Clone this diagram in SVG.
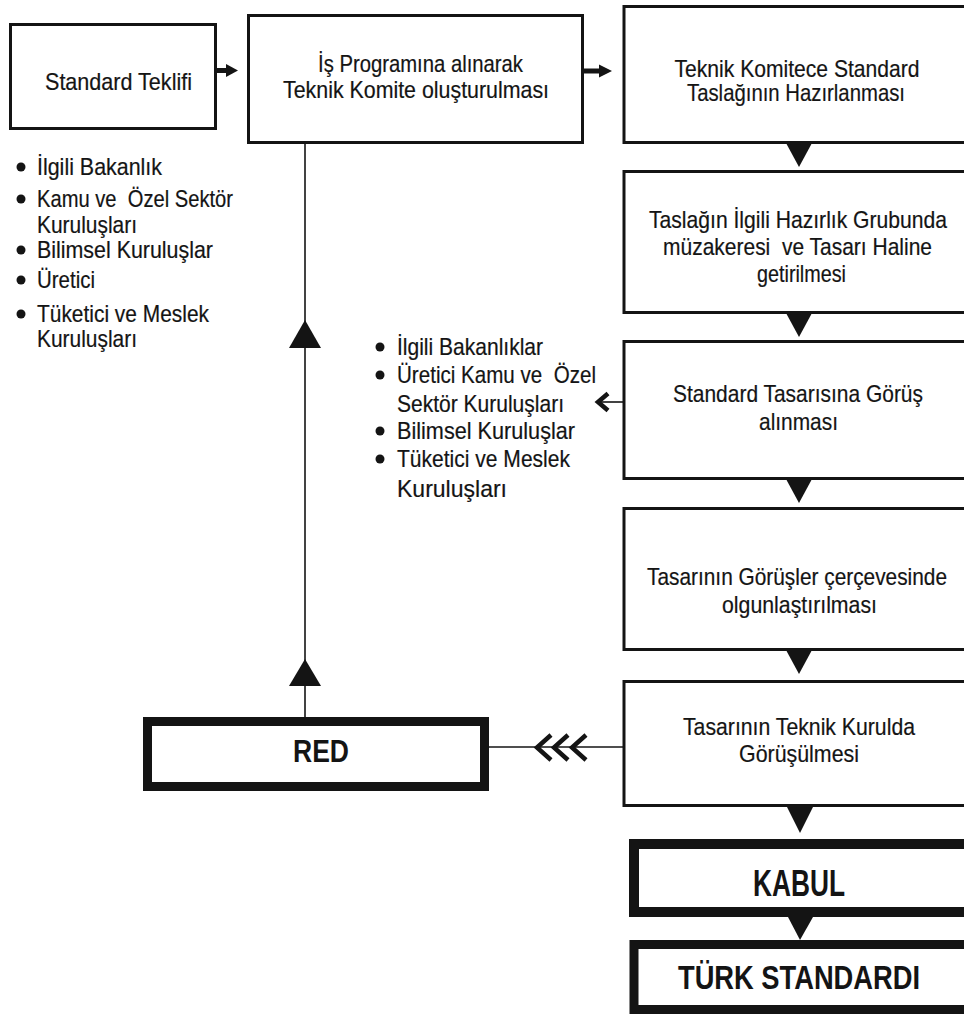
<svg xmlns="http://www.w3.org/2000/svg" width="964" height="1014" viewBox="0 0 964 1014">
<style>
.bg{fill:#ffffff}
.box{fill:#ffffff;stroke:#141414;stroke-width:3}
.open{fill:#ffffff;stroke:#141414;stroke-width:3}
.openh{fill:#ffffff;stroke:#141414}
.heavy{fill:#ffffff;stroke:#141414;stroke-width:9}
.t{font-family:"Liberation Sans",Arial,sans-serif;font-size:24px;fill:#141414;stroke:#141414;stroke-width:0.2}
.c{text-anchor:middle}
.b{font-family:"Liberation Sans",Arial,sans-serif;font-weight:700;fill:#141414;text-anchor:middle}
.ln{stroke:#141414;stroke-width:1.6;fill:none}
.tri{fill:#141414}
.chev{fill:none;stroke:#141414;stroke-width:4.5;stroke-linejoin:miter}
.dot{fill:#141414}
</style>
<rect class="bg" x="0" y="0" width="964" height="1014"/>

<g id="connectors">
  <rect x="206" y="68" width="2" height="5" fill="#141414"/>
  <rect x="209.5" y="68" width="2" height="5" fill="#141414"/>
  <line x1="213" y1="70.5" x2="228" y2="70.5" stroke="#141414" stroke-width="5"/>
  <polygon class="tri" points="226,64 238,70.5 226,77"/>
  <line x1="584" y1="71" x2="601" y2="71" stroke="#141414" stroke-width="5"/>
  <polygon class="tri" points="599,64.5 612,71 599,77.5"/>
  <polygon class="tri" points="786,143 812,143 799,167"/>
  <polygon class="tri" points="786,313 812,313 799,337"/>
  <polygon class="tri" points="786,479 812,479 799,503"/>
  <polygon class="tri" points="786,650 812,650 799,674"/>
  <polygon class="tri" points="787,807 813,807 800,833"/>
  <polygon class="tri" points="788,917 813,917 800,940"/>
  <line class="ln" x1="623" y1="402" x2="600" y2="402"/>
  <polyline class="chev" points="608,393.5 598,402 608,410.5"/>
  <line class="ln" x1="489" y1="747" x2="623" y2="747"/>
  <polyline class="chev" points="551,735 537,747.5 551,760"/>
  <polyline class="chev" points="568,735 554,747.5 568,760"/>
  <polyline class="chev" points="586,735 572,747.5 586,760"/>
  <line class="ln" x1="305" y1="143" x2="305" y2="717"/>
  <polygon class="tri" points="289,348 321,348 305,320"/>
  <polygon class="tri" points="289,686 321,686 305,659"/>
</g>

<g id="node-standard-teklifi">
  <rect class="box" x="10.5" y="24.5" width="205" height="104"/>
  <text class="t c" x="118.5" y="90" textLength="147" lengthAdjust="spacingAndGlyphs">Standard Teklifi</text>
</g>

<g id="list-teklif">
  <circle class="dot" cx="21" cy="167" r="4.5"/>
  <circle class="dot" cx="21" cy="199" r="4.5"/>
  <circle class="dot" cx="21" cy="250" r="4.5"/>
  <circle class="dot" cx="21" cy="280" r="4.5"/>
  <circle class="dot" cx="21" cy="314" r="4.5"/>
  <text class="t" x="37" y="175" textLength="125" lengthAdjust="spacingAndGlyphs">İlgili Bakanlık</text>
  <text class="t" x="37" y="207" textLength="196" lengthAdjust="spacingAndGlyphs" xml:space="preserve">Kamu ve  Özel Sektör</text>
  <text class="t" x="37" y="233" textLength="100" lengthAdjust="spacingAndGlyphs">Kuruluşları</text>
  <text class="t" x="37" y="258" textLength="176" lengthAdjust="spacingAndGlyphs">Bilimsel Kuruluşlar</text>
  <text class="t" x="37" y="288" textLength="58" lengthAdjust="spacingAndGlyphs">Üretici</text>
  <text class="t" x="37" y="322" textLength="172" lengthAdjust="spacingAndGlyphs">Tüketici ve Meslek</text>
  <text class="t" x="37" y="347" textLength="100" lengthAdjust="spacingAndGlyphs">Kuruluşları</text>
</g>

<g id="node-is-programi">
  <rect class="box" x="248.5" y="15.5" width="334" height="127"/>
  <text class="t c" x="420.5" y="72" textLength="205" lengthAdjust="spacingAndGlyphs">İş Programına alınarak</text>
  <text class="t c" x="416" y="98" textLength="266" lengthAdjust="spacingAndGlyphs">Teknik Komite oluşturulması</text>
</g>

<g id="node-taslak">
  <path class="open" d="M964,6.5 H624 V142.5 H964"/>
  <text class="t c" x="797" y="77" textLength="245" lengthAdjust="spacingAndGlyphs">Teknik Komitece Standard</text>
  <text class="t c" x="796" y="101" textLength="218" lengthAdjust="spacingAndGlyphs">Taslağının Hazırlanması</text>
</g>

<g id="node-hazirlik">
  <path class="open" d="M964,171.5 H624 V312.5 H964"/>
  <text class="t c" x="798" y="228" textLength="298" lengthAdjust="spacingAndGlyphs">Taslağın İlgili Hazırlık Grubunda</text>
  <text class="t c" x="797.5" y="255" textLength="269" lengthAdjust="spacingAndGlyphs" xml:space="preserve">müzakeresi  ve Tasarı Haline</text>
  <text class="t c" x="801.5" y="282" textLength="89" lengthAdjust="spacingAndGlyphs">getirilmesi</text>
</g>

<g id="node-gorus">
  <path class="open" d="M964,341.5 H624 V478.5 H964"/>
  <text class="t c" x="798" y="402" textLength="250" lengthAdjust="spacingAndGlyphs">Standard Tasarısına Görüş</text>
  <text class="t c" x="798.5" y="430" textLength="79" lengthAdjust="spacingAndGlyphs">alınması</text>
</g>

<g id="list-gorus">
  <circle class="dot" cx="380" cy="347" r="4.5"/>
  <circle class="dot" cx="380" cy="375" r="4.5"/>
  <circle class="dot" cx="380" cy="431" r="4.5"/>
  <circle class="dot" cx="380" cy="459" r="4.5"/>
  <text class="t" x="397" y="355" textLength="146" lengthAdjust="spacingAndGlyphs">İlgili Bakanlıklar</text>
  <text class="t" x="397" y="383" textLength="199" lengthAdjust="spacingAndGlyphs" xml:space="preserve">Üretici Kamu ve  Özel</text>
  <text class="t" x="397" y="412" textLength="167" lengthAdjust="spacingAndGlyphs">Sektör Kuruluşları</text>
  <text class="t" x="397" y="439" textLength="178" lengthAdjust="spacingAndGlyphs">Bilimsel Kuruluşlar</text>
  <text class="t" x="397" y="467" textLength="173" lengthAdjust="spacingAndGlyphs">Tüketici ve Meslek</text>
  <text class="t" x="397" y="497" textLength="110" lengthAdjust="spacingAndGlyphs">Kuruluşları</text>
</g>

<g id="node-olgunlastirma">
  <path class="open" d="M964,508.5 H624 V649.5 H964"/>
  <text class="t c" x="797" y="585" textLength="300" lengthAdjust="spacingAndGlyphs">Tasarının Görüşler çerçevesinde</text>
  <text class="t c" x="799.5" y="613" textLength="155" lengthAdjust="spacingAndGlyphs">olgunlaştırılması</text>
</g>

<g id="node-teknik-kurul">
  <path class="open" d="M964,681.5 H624 V805.5 H964"/>
  <text class="t c" x="799" y="735" textLength="232" lengthAdjust="spacingAndGlyphs">Tasarının Teknik Kurulda</text>
  <text class="t c" x="799" y="762" textLength="120" lengthAdjust="spacingAndGlyphs">Görüşülmesi</text>
</g>

<g id="node-red">
  <rect class="heavy" x="147.5" y="721.5" width="337" height="65"/>
  <text class="b" x="321" y="762" font-size="31" textLength="56" lengthAdjust="spacingAndGlyphs">RED</text>
</g>

<g id="node-kabul">
  <path class="openh" stroke-width="10" d="M964,844 H634 V912 H964"/>
  <text class="b" x="799" y="896" font-size="36" textLength="92" lengthAdjust="spacingAndGlyphs">KABUL</text>
</g>

<g id="node-turk-standardi">
  <path class="openh" stroke-width="9" d="M964,944.5 H634 V1009.5 H964"/>
  <text class="b" x="799" y="989" font-size="33" textLength="242" lengthAdjust="spacingAndGlyphs">TÜRK STANDARDI</text>
</g>
</svg>
